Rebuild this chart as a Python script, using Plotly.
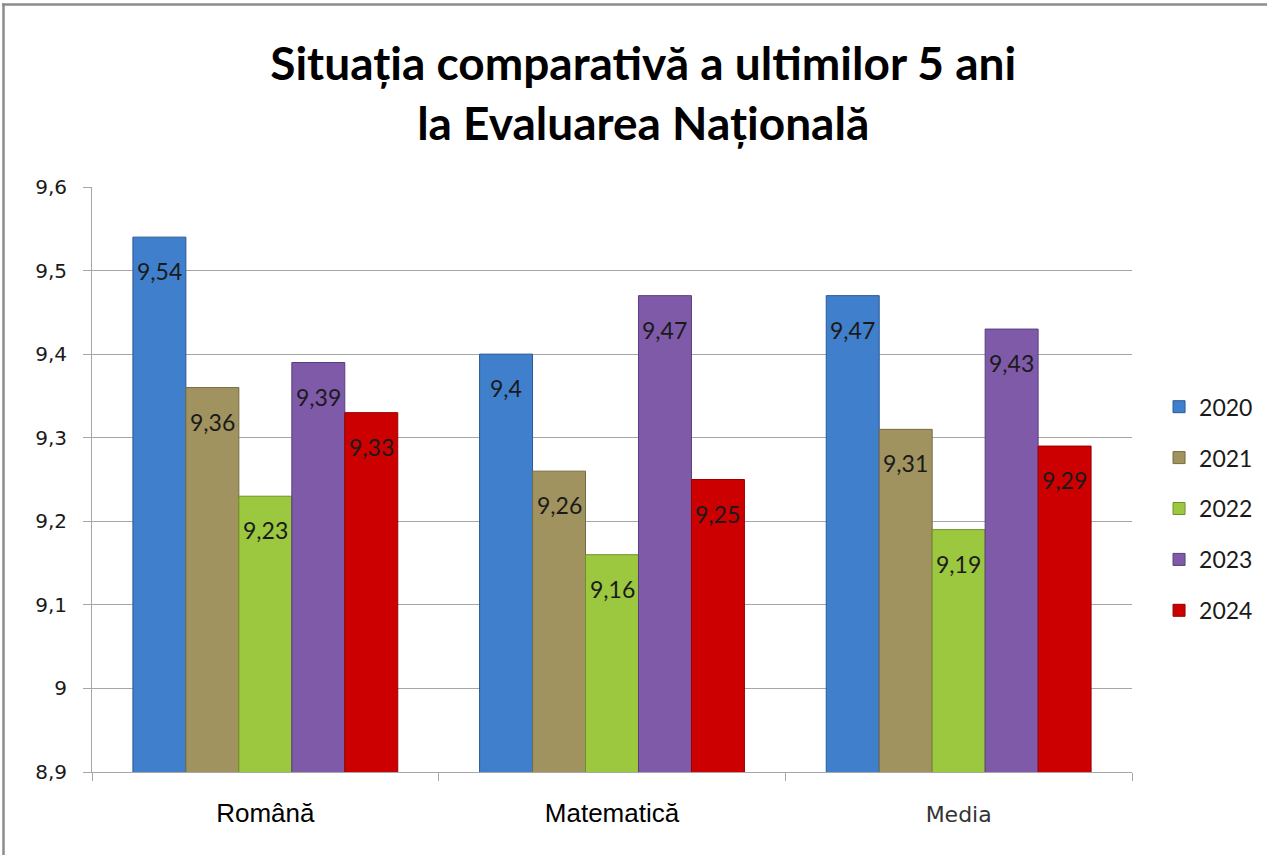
"""Situația comparativă a ultimilor 5 ani la Evaluarea Națională."""

import plotly.graph_objects as go

DISCIPLINE = ["Română", "Matematică", "Media"]
ETICHETE_X = ["Română", "Matematică",
              "<span style='font-family:DejaVu Sans, sans-serif;font-size:22px;fill:#333'>Media</span>"]
ANI = ["2020", "2021", "2022", "2023", "2024"]
MEDII_2020 = [9.54, 9.40, 9.47]
MEDII_2021 = [9.36, 9.26, 9.31]
MEDII_2022 = [9.23, 9.16, 9.19]
MEDII_2023 = [9.39, 9.47, 9.43]
MEDII_2024 = [9.33, 9.25, 9.29]
Y_TICKS = [8.9, 9.0, 9.1, 9.2, 9.3, 9.4, 9.5, 9.6]

CULORI = ["#3F7FCB", "#A0935F", "#9CC83F", "#7E5AA8", "#CC0000"]
CONTUR = ["#2A5A95", "#756B42", "#6E9228", "#5A3E7E", "#990000"]
TINTA = "#1A1A1A"
GRILA = "#A6A6A6"

serii = [MEDII_2020, MEDII_2021, MEDII_2022, MEDII_2023, MEDII_2024]

L, R, T, B = 92, 135, 187, 83
W, H = 1267, 855
pw, ph = W - L - R, H - T - B
BARGAP = 0.236
latime_bara = pw / len(DISCIPLINE) * (1 - BARGAP) / len(ANI)

fig = go.Figure()
for i, (an, vals, cul, cont) in enumerate(zip(ANI, serii, CULORI, CONTUR)):
    fig.add_bar(x=DISCIPLINE, y=vals, name=an, legendgroup=an, marker_color=cul,
                marker_line=dict(color=cont, width=1))
    # etichetele valorilor, în interiorul barei, sub capăt
    for disc, v in zip(DISCIPLINE, vals):
        fig.add_annotation(x=disc, y=v, text=f"{v:g}".replace(".", ","),
                           showarrow=False, xanchor="center", yanchor="middle",
                           xshift=(i - (len(ANI) - 1) / 2) * latime_bara, yshift=-34,
                           font=dict(family="Lato, Open Sans, sans-serif", size=23,
                                     color=TINTA))

# rama graficului (sus și stânga)
fig.add_shape(type="line", xref="paper", yref="paper",
              x0=(2 - L) / pw, x1=(W + 5 - L) / pw,
              y0=(T + ph - 4.5) / ph, y1=(T + ph - 4.5) / ph,
              line=dict(color="#8C8C8C", width=2.5))
fig.add_shape(type="line", xref="paper", yref="paper",
              x0=(3.5 - L) / pw, x1=(3.5 - L) / pw,
              y0=(-5 - B) / ph, y1=(T + ph - 3.5) / ph,
              line=dict(color="#8C8C8C", width=2.5))

fig.update_layout(
    width=W, height=H, barmode="group", bargap=BARGAP, bargroupgap=0,
    separators=", ",
    paper_bgcolor="white", plot_bgcolor="white",
    margin=dict(l=L, r=R, t=T, b=B, autoexpand=False),
    font=dict(family="Lato, Open Sans, sans-serif", color=TINTA),
    title=dict(text="Situația comparativă a ultimilor 5 ani<br>la Evaluarea Națională",
               x=0.53, xref="paper", xanchor="center", y=0.906, yanchor="middle",
               font=dict(family="Lato, sans-serif", size=46, color="#000000",
                         weight="bold")),
    legend=dict(x=1.026, y=0.45, xanchor="left", yanchor="middle",
                font=dict(size=23, color=TINTA), tracegroupgap=18,
                itemwidth=30),
    showlegend=True,
)
fig.update_yaxes(range=[8.9, 9.6], tickvals=Y_TICKS, showgrid=True, gridcolor=GRILA,
                 gridwidth=1, showline=True, linecolor=GRILA, linewidth=1,
                 ticks="outside", ticklen=8, tickcolor=GRILA, automargin=False,
                 ticklabelstandoff=12,
                 tickfont=dict(family="DejaVu Sans, sans-serif", size=20, color=TINTA),
                 zeroline=False)
fig.update_xaxes(showline=True, linecolor=GRILA, linewidth=1, ticks="outside",
                 tickson="boundaries", ticklen=8, tickcolor=GRILA, automargin=False,
                 tickvals=DISCIPLINE, ticktext=ETICHETE_X, ticklabelstandoff=18,
                 tickfont=dict(family="Liberation Sans, Arial, sans-serif",
                               size=26, color="#000000"))

fig.write_html("out.html", config={"displayModeBar": False},
               post_script="document.body.style.margin='0';")
